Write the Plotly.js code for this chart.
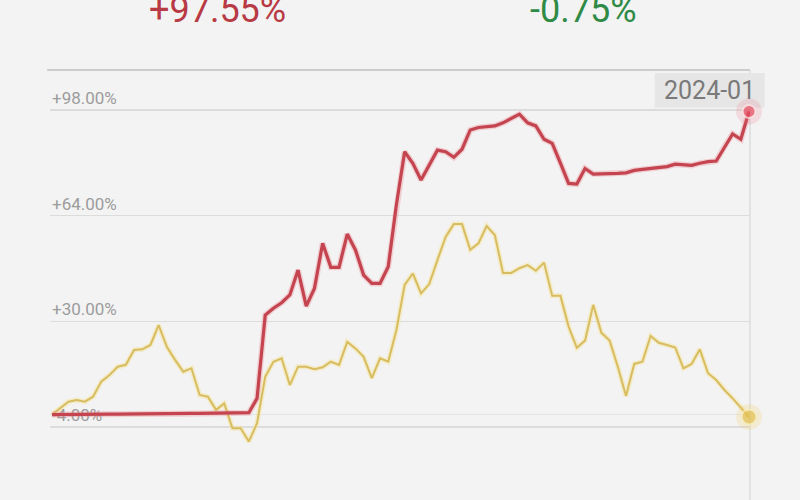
<!DOCTYPE html>
<html>
<head>
<meta charset="utf-8">
<script src="https://cdn.plot.ly/plotly-3.0.1.min.js"></script>
<style>
  html, body { margin: 0; padding: 0; background: #f3f3f3; }
  #grafico { width: 800px; height: 500px; }
</style>
</head>
<body>
<div id="grafico"></div>
<script>
// ====================================
// DATOS (rentabilidad acumulada, %)
// ====================================
const rentabilidadFondo = [
    0, 0.05, 0.05, 0.1, 0.1, 0.1, 0.15, 0.15, 0.15, 0.2, 0.2, 0.2, 0.25, 0.25, 0.3, 0.3, 0.3, 0.35, 0.35, 0.4, 0.4, 0.45, 0.5, 0.5,
    0.6, 5.2, 32.0, 34.2, 36.0, 38.5, 46.5, 34.9, 40.6, 55.1, 47.4, 47.4, 58.1, 53.0, 44.9, 42.2, 42.2, 47.6,
    67.6, 84.6, 80.9, 75.5, 80.3, 85.1, 84.6, 82.8, 85.4, 91.6, 92.4, 92.6, 92.9, 93.9, 95.3, 96.7, 93.9, 92.9,
    88.6, 87.3, 80.9, 74.4, 74.2, 79.2, 77.4, 77.4, 77.4, 77.6, 77.8, 78.6, 78.9, 79.2, 79.5, 79.8, 80.6, 80.4,
    80.2, 80.9, 81.4, 81.6, 86.2, 90.3, 88.6, 97.55
];

const rentabilidadIndice = [
    0, 2.0, 4.15, 4.7, 4.15, 5.75, 10.6, 12.7, 15.4, 16.0, 20.8, 21.0, 22.4, 28.8, 21.8, 17.6, 13.8, 14.9, 6.3, 5.75,
    1.5, 3.6, -4.4, -4.4, -8.7, -2.8, 12.2, 17.0, 18.1, 9.5, 15.4, 15.4, 14.6, 15.2, 17.0, 16.0, 23.4, 21.3, 18.6, 11.7,
    18.1, 17.0, 27.2, 41.7, 45.4, 39.0, 42.0, 49.7, 57.2, 61.3, 61.3, 53.0, 55.1, 60.7, 57.8, 45.6, 45.6, 47.1, 48.1, 46.3,
    48.9, 38.2, 38.2, 28.3, 21.5, 23.8, 35.3, 26.3, 23.8, 15.4, 6.0, 16.3, 17.0, 25.3, 23.1, 22.4, 21.6, 14.9, 16.3, 21.0,
    13.3, 11.1, 7.9, 5.2, 2.4, -0.75
];

const nivelesY = [98, 64, 30, -4];
const textosY = ['+98.00%', '+64.00%', '+30.00%', '-4.00%'];
const etiquetaFinal = '2024-01';

const periodos = rentabilidadFondo.map((_, i) => i);
const ultimo = periodos.length - 1;

const ROJO = '#c4444f';
const AMARILLO = '#d8bd60';

function formatoPct(v) {
    return (v >= 0 ? '+' : '') + v.toFixed(2) + '%';
}

// ====================================
// TRAZAS
// ====================================
const trazas = [];

// ---- Índice (amarillo) con halo ----
trazas.push({
    x: periodos, y: rentabilidadIndice,
    type: 'scatter', mode: 'lines', hoverinfo: 'skip',
    line: { color: 'rgba(245, 228, 160, 0.5)', width: 5 }
});
trazas.push({
    x: periodos, y: rentabilidadIndice,
    type: 'scatter', mode: 'lines', name: 'Índice',
    line: { color: AMARILLO, width: 2 }
});

// ---- Fondo (rojo) con halo ----
trazas.push({
    x: periodos, y: rentabilidadFondo,
    type: 'scatter', mode: 'lines', hoverinfo: 'skip',
    line: { color: 'rgba(235, 140, 150, 0.35)', width: 6 }
});
trazas.push({
    x: periodos, y: rentabilidadFondo,
    type: 'scatter', mode: 'lines', name: 'Fondo',
    line: { color: ROJO, width: 3.2 }
});

// ---- Puntos finales ----
trazas.push({
    x: [ultimo, ultimo], y: [rentabilidadFondo[ultimo], rentabilidadIndice[ultimo]],
    type: 'scatter', mode: 'markers', hoverinfo: 'skip', cliponaxis: false,
    marker: { size: 26, color: ['rgba(240, 110, 130, 0.18)', 'rgba(240, 205, 100, 0.22)'] }
});
trazas.push({
    x: [ultimo, ultimo], y: [rentabilidadFondo[ultimo], rentabilidadIndice[ultimo]],
    type: 'scatter', mode: 'markers', hoverinfo: 'skip', cliponaxis: false,
    marker: {
        size: [13, 15],
        color: ['#e64a5e', '#e3bf4e'],
        line: { color: ['#fbe3e3', '#f8eab8'], width: 2 }
    }
});

// ====================================
// LAYOUT
// ====================================
const layout = {
    width: 800,
    height: 500,
    paper_bgcolor: '#f3f3f3',
    plot_bgcolor: '#f3f3f3',
    showlegend: false,
    margin: { l: 50, r: 50, t: 70, b: 0 },
    font: { family: 'Roboto, sans-serif', color: '#9a9a9a' },
    xaxis: {
        range: [-0.25, ultimo + 0.12],
        showgrid: false, zeroline: false, showticklabels: false, showline: false
    },
    yaxis: {
        range: [-27.5, 110.9],
        tickvals: nivelesY,
        ticktext: textosY,
        ticklabelposition: 'inside top',
        ticklabelstandoff: -1,
        tickfont: { size: 17, color: '#9c9c9c' },
        ticks: '',
        gridcolor: '#dcdcdc',
        gridwidth: 1.5,
        zeroline: true,
        zerolinecolor: '#e4e4e4',
        zerolinewidth: 1.5,
        showline: false,
        layer: 'below traces'
    },
    shapes: [
        // línea superior
        {
            type: 'line', xref: 'paper', yref: 'paper', layer: 'below',
            x0: -0.004, x1: 1, y0: 1, y1: 1,
            line: { color: '#cccccc', width: 2 }
        },
        // línea vertical del último periodo
        {
            type: 'line', xref: 'paper', yref: 'paper', layer: 'below',
            x0: 1, x1: 1, y0: 0, y1: 1,
            line: { color: '#dddddd', width: 1.5 }
        },
        // fondo de la etiqueta de fecha (debajo del punto final)
        {
            type: 'rect', xref: 'paper', yref: 'paper', layer: 'below',
            x0: 0.864, x1: 1.021, y0: 0.912, y1: 0.993,
            fillcolor: '#e6e6e6', line: { width: 0 }
        }
    ],
    annotations: [
        {
            xref: 'paper', yref: 'paper', x: 0.239, y: 1.14,
            xanchor: 'center', yanchor: 'middle', showarrow: false,
            text: formatoPct(rentabilidadFondo[ultimo]),
            font: { size: 36, color: '#b83a44', family: 'Roboto, sans-serif' }
        },
        {
            xref: 'paper', yref: 'paper', x: 0.762, y: 1.14,
            xanchor: 'center', yanchor: 'middle', showarrow: false,
            text: formatoPct(rentabilidadIndice[ultimo]),
            font: { size: 36, color: '#2f8a45', family: 'Roboto, sans-serif' }
        },
        {
            xref: 'paper', yref: 'paper', x: 0.9425, y: 0.9525,
            xanchor: 'center', yanchor: 'middle', showarrow: false,
            text: etiquetaFinal,
            font: { size: 25, color: '#7a7a7a', family: 'Roboto, sans-serif' }
        }
    ]
};

Plotly.newPlot('grafico', trazas, layout, { displayModeBar: false, staticPlot: true });
</script>
</body>
</html>
